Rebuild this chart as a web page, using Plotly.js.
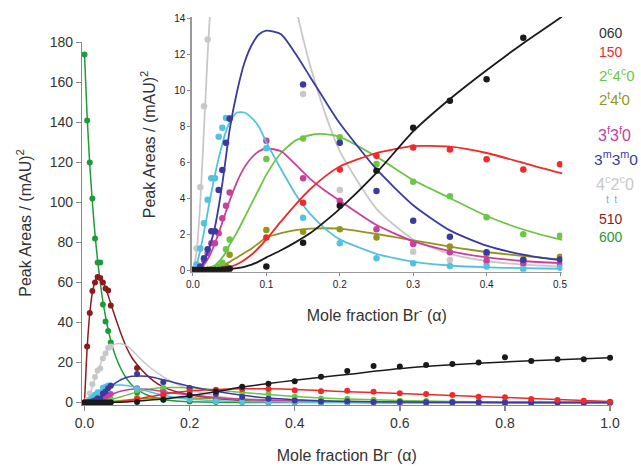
<!DOCTYPE html>
<html><head><meta charset="utf-8">
<script src="https://cdn.plot.ly/plotly-3.0.1.min.js"></script>
<style>html,body{margin:0;padding:0;background:#fff}#chart{width:641px;height:468px}</style>
</head><body><div id="chart"></div>
<script>
// x grids
const X_PTS = [0,0.005,0.01,0.015,0.02,0.025,0.03,0.035,0.04,0.045,0.05,0.1,0.15,0.2,0.25,0.3,0.35,0.4,0.45,0.5,0.55,0.6,0.65,0.7,0.75,0.8,0.85,0.9,0.95,1.0];
const X_FIT = [0,0.005,0.01,0.015,0.02,0.025,0.03,0.035,0.04,0.045,0.05,0.06,0.07,0.08,0.09,0.1,0.12,0.14,0.16,0.18,0.2,0.25,0.3,0.35,0.4,0.45,0.5,0.6,0.7,0.8,0.9,1.0];

// measured points
const PTS_060   = [0,0,0,0,0,0,0,0,0.02,0.03,0.05, 0.2,1.52,3.57,5.52,7.9,9.4,10.6,12.9,15.7, 18.3,18.0,18.8,19.3,20.0,22.6,20.8,21.6,21.6,22.4];
const PTS_150   = [0,0,0,0,0,0,0,0,0.02,0.05,0.1, 1.8,3.74,5.59,6.35,6.81,6.7,6.15,5.59,5.87, 5.4,4.6,4.2,3.7,2.9,2.6,1.8,1.3,0.9,0.4];
const PTS_2C4C0 = [0,0,0,0,0.02,0.05,0.1,0.2,0.4,1.15,1.7, 6.17,7.3,7.37,5.89,4.9,4.1,2.93,1.98,1.9, 1.4,0.9,0.7,0.5,0.4,0.3,0.2,0.15,0.1,0.05];
const PTS_2T4T0 = [0,0,0,0,0,0,0,0.02,0.05,0.2,0.85, 2.22,2.13,2.26,1.81,1.48,1.3,0.89,0.59,0.74, 0.4,0.3,0.25,0.2,0.15,0.1,0.08,0.06,0.05,0.04];
const PTS_3F3F0 = [0,0,0.05,0.56,0.93,1.48,1.48,2.04,2.87,3.57,4.3, 7.18,5.1,3.85,2.26,1.45,0.98,0.52,0.37,0.33, 0.2,0.15,0.1,0.08,0.06,0.05,0.04,0.03,0.02,0.02];
const PTS_3M3M0 = [0,0,0.2,0.65,1.15,2.15,2.15,4.44,5.55,7.07,8.4, 14.3,10.3,7.07,4.39,2.74,1.85,0.98,0.55,0.59, 0.3,0.2,0.15,0.1,0.08,0.06,0.05,0.04,0.03,0.02];
const PTS_4C2C0 = [0,1.2,4.6,9.1,12.8,16,17,22,24.5,27.3,28, null,9.78,4.44,null,1.02,0.56,0.35,0.25,0.2, 0.1,0.08,0.06,0.05,0.04,0.03,0.02,0.02,0.01,0.01];
const PTS_4T2T0 = [0,0.3,1.2,2.6,3.9,5.1,5.1,7.4,7.9,8.45,8.45, 6.76,2.9,1.48,0.65,0.37,0.22,0.19,0.04,0.13, 0.05,0.04,0.03,0.02,0.02,0.01,0.01,0.01,0,0];
const PTS_510   = [0,28,44.7,55.7,60,62.7,62.3,60,57,56,48.5, 17.3,6,2.5,1.2,0.6,0.3,0.2,0.1,0.05, 0.03,0.02,0.01,0,0,0,0,0,0,0];
const PTS_600   = [174,141,120,102,82,70,70,49,40.5,35.7,30, 5,1.2,0.5,0.3,0.25,0.2,0.15,0.1,0.1, 0.1,0.05,0.05,0.05,0,0,0,0,0,0];

// fitted curves
const FIT_060   = [0,0,0,0,0,0,0.01,0.02,0.03,0.04,0.06,0.1,0.18,0.3,0.48,0.7,1.1,1.55,2.05,2.7,3.4,5.4,7.7,9.5,11.1,12.6,14.0,17.0,18.9,20.3,21.4,22.4];
const FIT_150   = [0,0,0,0,0,0,0,0.02,0.05,0.1,0.16,0.32,0.56,0.86,1.25,1.7,2.7,3.65,4.5,5.2,5.75,6.5,6.88,6.85,6.5,5.95,5.4,4.5,3.5,2.5,1.45,0.45];
const FIT_2C4C0 = [0,0,0.01,0.03,0.07,0.15,0.27,0.45,0.7,1.0,1.4,2.1,2.9,3.7,4.5,5.3,6.5,7.2,7.5,7.55,7.4,6.3,5.0,4.0,3.0,2.25,1.7,1.0,0.55,0.3,0.15,0.07];
const FIT_2T4T0 = [0,0,0,0.01,0.03,0.06,0.1,0.16,0.24,0.34,0.45,0.7,0.95,1.2,1.5,1.8,2.05,2.22,2.3,2.32,2.3,2.0,1.65,1.3,1.0,0.78,0.58,0.3,0.15,0.08,0.04,0.02];
const FIT_3F3F0 = [0,0.02,0.1,0.3,0.6,1.0,1.5,2.05,2.65,3.25,3.85,4.9,5.7,6.25,6.6,6.75,6.6,5.85,5.05,4.4,3.85,2.5,1.6,1.05,0.7,0.5,0.38,0.2,0.1,0.05,0.03,0.01];
const FIT_3M3M0 = [0,0.02,0.15,0.45,1.0,1.6,2.4,3.5,4.8,6.3,7.8,9.9,11.5,12.5,13.1,13.3,13.1,12.0,10.7,9.4,8.15,5.6,3.6,2.2,1.35,0.85,0.55,0.25,0.1,0.05,0.02,0.01];
const FIT_4C2C0 = [0,1.0,3.8,7.8,12.0,15.5,19.0,22.0,24.5,26.5,27.9,29.3,29.4,28.4,26.3,23.5,18.5,14.6,11.3,8.7,6.6,3.4,1.7,0.9,0.5,0.3,0.2,0.07,0.03,0.01,0,0];
const FIT_4T2T0 = [0,0.35,1.1,2.1,3.2,4.3,5.3,6.2,7.0,7.7,8.2,8.75,8.75,8.45,7.95,7.1,5.6,4.2,3.1,2.3,1.7,0.9,0.45,0.25,0.15,0.1,0.07,0.03,0.01,0,0,0];
const FIT_510   = [0,27,44.5,55,60.5,62.8,62.5,60.5,57.5,53.5,49.5,41.5,34,27.5,22.5,19,13.3,9.2,6.7,5.0,3.9,2.0,1.0,0.55,0.3,0.17,0.1,0.03,0.01,0,0,0];
const FIT_600   = [174,143,119,100,84,71,60,50.5,43,36.5,31,22.5,16.5,12,8.8,6.5,3.6,2.0,1.1,0.6,0.35,0.1,0.03,0.01,0,0,0,0,0,0,0,0];

// ticks
const MAIN_X_TICKS = [0,0.2,0.4,0.6,0.8,1.0];
const MAIN_X_LABELS = ['0.0','0.2','0.4','0.6','0.8','1.0'];
const MAIN_Y_TICKS = [0,20,40,60,80,100,120,140,160,180];
const INSET_X_TICKS = [0,0.1,0.2,0.3,0.4,0.5];
const INSET_X_LABELS = ['0.0','0.1','0.2','0.3','0.4','0.5'];
const INSET_Y_TICKS = [0,2,4,6,8,10,12,14];

const SERIES = [
  {pts:PTS_600,   fit:FIT_600,   color:'#1f9a3a', inset:false},
  {pts:PTS_510,   fit:FIT_510,   color:'#8b1c1c', inset:false},
  {pts:PTS_4C2C0, fit:FIT_4C2C0, color:'#c8c8c8', inset:true},
  {pts:PTS_2T4T0, fit:FIT_2T4T0, color:'#94941e', inset:true},
  {pts:PTS_2C4C0, fit:FIT_2C4C0, color:'#6cc644', inset:true},
  {pts:PTS_3F3F0, fit:FIT_3F3F0, color:'#c8409c', inset:true},
  {pts:PTS_4T2T0, fit:FIT_4T2T0, color:'#52c2de', inset:true},
  {pts:PTS_3M3M0, fit:FIT_3M3M0, color:'#3a3aa0', inset:true},
  {pts:PTS_150,   fit:FIT_150,   color:'#ee2a2a', inset:true},
  {pts:PTS_060,   fit:FIT_060,   color:'#1a1a1a', inset:true}
];

const traces = [];
SERIES.forEach(s => {
  traces.push({x:X_FIT, y:s.fit, mode:'lines', xaxis:'x', yaxis:'y', showlegend:false, hoverinfo:'skip',
    line:{color:s.color, width:1.5, shape:'spline', smoothing:0.6}});
  traces.push({x:X_PTS, y:s.pts, mode:'markers', xaxis:'x', yaxis:'y', showlegend:false, cliponaxis:false,
    marker:{color:s.color, size:6}});
});
SERIES.filter(s => s.inset).forEach(s => {
  traces.push({x:X_FIT, y:s.fit, mode:'lines', xaxis:'x2', yaxis:'y2', showlegend:false, hoverinfo:'skip',
    line:{color:s.color, width:1.8, shape:'spline', smoothing:0.6}});
  traces.push({x:X_PTS, y:s.pts, mode:'markers', xaxis:'x2', yaxis:'y2', showlegend:false, cliponaxis:true,
    marker:{color:s.color, size:6.5}});
});

const FONT = 'Liberation Sans, Arial, sans-serif';
const W = 641, H = 468;
const px = v => v / W;
const py = v => 1 - v / H;

function leg(text, x, y, color, size) {
  return {text:text, x:px(x), y:py(y), xref:'paper', yref:'paper', xanchor:'left', yanchor:'middle',
    showarrow:false, font:{family:FONT, size:size, color:color}};
}

const layout = {
  width:W, height:H, margin:{l:0, r:0, t:0, b:0},
  paper_bgcolor:'#fff', plot_bgcolor:'rgba(0,0,0,0)', showlegend:false,
  font:{family:FONT, color:'#333'},
  xaxis:{domain:[82.4/W, 611.1/W], range:[-0.004, 1.002], anchor:'y',
    tickvals:MAIN_X_TICKS, ticktext:MAIN_X_LABELS, ticks:'outside', ticklen:5, tickwidth:1.5, tickcolor:'#888',
    showline:true, linecolor:'#888', linewidth:1.5, showgrid:false, zeroline:false,
    tickfont:{family:FONT, size:14, color:'#333'},
    title:{text:'Mole fraction Br<sup>-</sup> (α)', font:{family:FONT, size:16, color:'#333'}, standoff:20}},
  yaxis:{domain:[(H-404.5)/H, (H-41.5)/H], range:[-1, 180.5], anchor:'x',
    tickvals:MAIN_Y_TICKS, ticks:'outside', ticklen:5, tickwidth:1.5, tickcolor:'#888',
    showline:true, linecolor:'#888', linewidth:1.5, showgrid:false, zeroline:false,
    tickfont:{family:FONT, size:14, color:'#333'},
    title:{text:'Peak Areas / (mAU)<sup>2</sup>', font:{family:FONT, size:16, color:'#333'}, standoff:14}},
  xaxis2:{domain:[191.5/W, 562.2/W], range:[-0.002, 0.503], anchor:'y2',
    tickvals:INSET_X_TICKS, ticktext:INSET_X_LABELS, ticks:'outside', ticklen:3, tickwidth:1, tickcolor:'#888',
    showline:true, linecolor:'#999', linewidth:1.2, showgrid:false, zeroline:false,
    tickfont:{family:FONT, size:10, color:'#222'},
    title:{text:'Mole fraction Br<sup>-</sup> (α)', font:{family:FONT, size:16, color:'#333'}, standoff:20}},
  yaxis2:{domain:[(H-271.8)/H, (H-17.1)/H], range:[-0.1, 14.05], anchor:'x2',
    tickvals:INSET_Y_TICKS, ticks:'outside', ticklen:3, tickwidth:1, tickcolor:'#888',
    showline:true, linecolor:'#999', linewidth:1.2, showgrid:false, zeroline:false,
    tickfont:{family:FONT, size:10, color:'#222'},
    title:{text:'Peak Areas / (mAU)<sup>2</sup>', font:{family:FONT, size:16, color:'#333'}, standoff:14}},
  annotations:[
    leg('060', 597, 33, '#333', 14),
    leg('150', 597, 52, '#ee2a2a', 14),
    leg('2<sup>c</sup>4<sup>c</sup>0', 597, 74, '#6cc644', 15),
    leg('2<sup>t</sup>4<sup>t</sup>0', 597, 98, '#94941e', 15),
    leg('3<sup>f</sup>3<sup>f</sup>0', 596, 134, '#c8409c', 16),
    leg('3<sup>m</sup>3<sup>m</sup>0', 592, 158, '#3a3aa0', 15.5),
    leg('4<sup>c</sup>2<sup>c</sup>0', 594, 183, '#c8c8c8', 16),
    leg('t  t', 604, 199, '#52c2de', 10),
    leg('510', 597, 219, '#8b1c1c', 14),
    leg('600', 597, 237, '#1f9a3a', 14)
  ]
};

Plotly.newPlot('chart', traces, layout, {staticPlot:true, displayModeBar:false});
</script></body></html>
